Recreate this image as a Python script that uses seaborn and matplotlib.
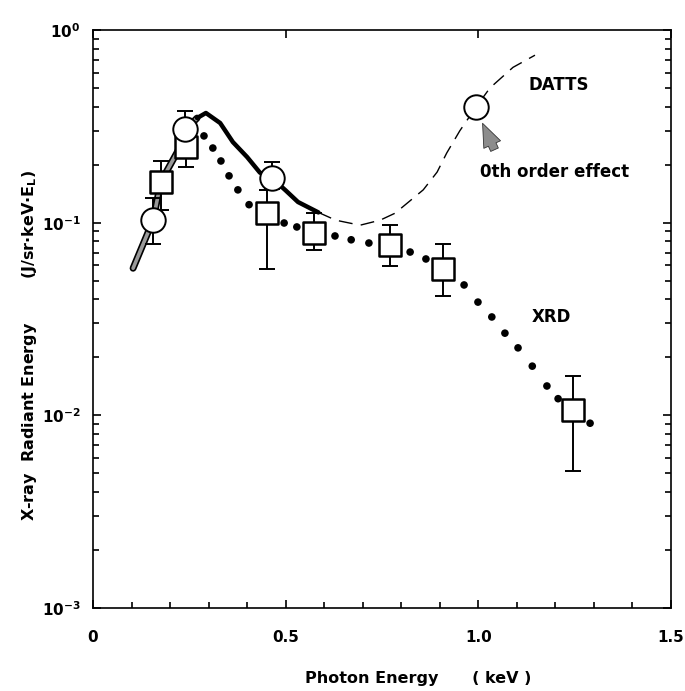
import numpy as np
import pandas as pd
import matplotlib
matplotlib.use("Agg")
import matplotlib.pyplot as plt
import seaborn as sns
from matplotlib.ticker import MultipleLocator, LogLocator, NullFormatter

# ---- data (photon energy in keV, energy in J/sr/keV/E_L) ----
xrd_x = [0.288, 0.311, 0.332, 0.353, 0.376, 0.405, 0.496, 0.529, 0.628, 0.670, 0.716,
         0.823, 0.864, 0.963, 0.999, 1.035, 1.069, 1.103, 1.140, 1.178, 1.207, 1.290]
xrd_y = [0.282, 0.244, 0.209, 0.175, 0.148, 0.124, 0.0996, 0.095, 0.0853, 0.0815, 0.0784,
         0.0704, 0.0648, 0.0475, 0.0387, 0.0324, 0.0267, 0.0224, 0.0180, 0.0142, 0.0122, 0.0091]

datts_solid_x = [0.270, 0.293, 0.330, 0.363, 0.400, 0.433, 0.465, 0.500, 0.532, 0.585]
datts_solid_y = [0.349, 0.371, 0.329, 0.262, 0.219, 0.182, 0.170, 0.147, 0.128, 0.113]

datts_dash_x = [0.585, 0.630, 0.693, 0.745, 0.784, 0.857, 0.893, 0.918, 0.952, 0.994, 1.030, 1.090, 1.147]
datts_dash_y = [0.113, 0.103, 0.097, 0.103, 0.112, 0.148, 0.183, 0.230, 0.300, 0.398, 0.500, 0.640, 0.740]

rise_x = [0.104, 0.156, 0.176, 0.220, 0.245, 0.270]
rise_y = [0.058, 0.103, 0.163, 0.235, 0.310, 0.349]

circ_x = [0.156, 0.239, 0.465, 0.994]
circ_y = [0.103, 0.306, 0.171, 0.398]
circ_lo = [0.0775, 0.250, 0.150, 0.398]
circ_hi = [0.134, 0.380, 0.206, 0.398]

sq_x = [0.176, 0.241, 0.452, 0.574, 0.771, 0.908, 1.246]
sq_y = [0.163, 0.247, 0.112, 0.0884, 0.0766, 0.0575, 0.01066]
sq_lo = [0.116, 0.194, 0.0575, 0.0721, 0.0596, 0.0416, 0.00514]
sq_hi = [0.209, 0.300, 0.148, 0.112, 0.0973, 0.0775, 0.0160]

x_ticks = [0, 0.5, 1.0, 1.5]
x_ticklabels = ["0", "0.5", "1.0", "1.5"]

sns.set_theme(style="ticks")
plt.rcParams.update({
    "font.family": ["DejaVu Sans"],
    "font.weight": "bold",
    "mathtext.default": "regular",
    "axes.linewidth": 1.2,
    "text.color": "black",
    "axes.edgecolor": "black",
    "axes.labelcolor": "black",
    "xtick.color": "black",
    "ytick.color": "black",
})

fig = plt.figure(figsize=(6.85, 6.91), dpi=100)
ax = fig.add_axes([93 / 685, 1 - 608 / 691, 578 / 685, 578 / 691])
ax.set_yscale("log")

# shaded rising part of the curve
ax.plot(rise_x, rise_y, color="black", lw=5.0, solid_capstyle="round", zorder=2)
ax.plot(rise_x, rise_y, color="0.6", lw=2.6, solid_capstyle="round", zorder=2)

sns.lineplot(x=datts_solid_x, y=datts_solid_y, sort=False, estimator=None,
             color="black", lw=3.2, ax=ax, zorder=2)
sns.lineplot(x=datts_dash_x, y=datts_dash_y, sort=False, estimator=None,
             color="black", lw=1.0, dashes=False, ax=ax, zorder=2)
ax.lines[-1].set_dashes((10, 6))

sns.scatterplot(x=xrd_x, y=xrd_y, color="black", s=30, edgecolor="none", ax=ax, zorder=3)

sq_x_a, sq_y_a = np.array(sq_x), np.array(sq_y)
ax.errorbar(sq_x, sq_y, yerr=[sq_y_a - np.array(sq_lo), np.array(sq_hi) - sq_y_a],
            fmt="none", ecolor="black", elinewidth=1.4, capsize=5.5, capthick=1.4, zorder=4)
c_x_a, c_y_a = np.array(circ_x), np.array(circ_y)
ax.errorbar(circ_x, circ_y, yerr=[c_y_a - np.array(circ_lo), np.array(circ_hi) - c_y_a],
            fmt="none", ecolor="black", elinewidth=1.4, capsize=5.5, capthick=1.4, zorder=4)

sns.scatterplot(x=sq_x, y=sq_y, marker="s", s=250, color="white", edgecolor="black",
                linewidth=1.8, ax=ax, zorder=5)
sns.scatterplot(x=circ_x, y=circ_y, marker="o", s=310, color="white", edgecolor="black",
                linewidth=1.4, ax=ax, zorder=6)

ax.annotate("", xy=(1.008, 0.338), xytext=(1.045, 0.232),
            arrowprops=dict(arrowstyle="simple,head_length=1.4,head_width=1.1,tail_width=0.5",
                            fc="0.55", ec="0.2", lw=0.6), zorder=7)

ax.text(1.129, 0.518, "DATTS", fontsize=12, fontweight="bold", va="center", ha="left")
ax.text(1.004, 0.183, "0th order effect", fontsize=12, fontweight="bold", va="center", ha="left")
ax.text(1.139, 0.0324, "XRD", fontsize=12, fontweight="bold", va="center", ha="left")

ax.set_xlim(0, 1.5)
ax.set_ylim(1e-3, 1)
ax.set_xticks(x_ticks)
ax.set_xticklabels(x_ticklabels)
ax.xaxis.set_minor_locator(MultipleLocator(0.1))
ax.yaxis.set_major_locator(LogLocator(base=10))
ax.yaxis.set_minor_locator(LogLocator(base=10, subs=np.arange(2, 10)))
ax.yaxis.set_minor_formatter(NullFormatter())
ax.tick_params(which="both", direction="in", top=True, right=True, width=1.2, labelsize=11)
ax.tick_params(which="major", length=6)
ax.tick_params(which="minor", length=4, top=False)
ax.tick_params(axis="x", pad=16)
ax.tick_params(axis="y", pad=9)
ax.set_xlabel("")
ax.set_ylabel("")

fig.text(418 / 685, 1 - 678 / 691, "Photon Energy      ( keV )", fontsize=11.5,
         fontweight="bold", ha="center", va="center")
fig.text(30 / 685, 1 - 345 / 691, "X-ray  Radiant Energy        (J/sr·keV·E$_L$)",
         fontsize=11.5, fontweight="bold", rotation=90, ha="center", va="center")

fig.savefig("out.png", dpi=100)
